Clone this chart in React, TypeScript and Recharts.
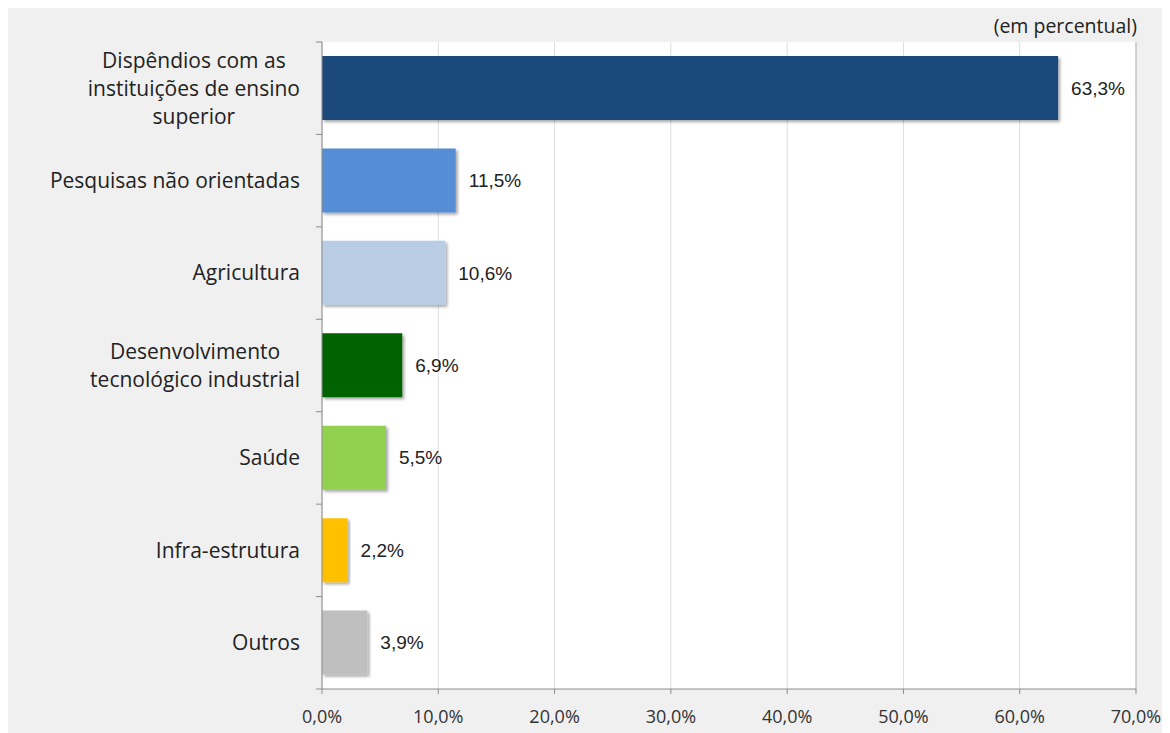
import { BarChart, Bar, XAxis, YAxis, CartesianGrid, Cell, LabelList, ReferenceLine } from 'recharts';

// categories top to bottom, \n marks the line breaks of the tick labels
const categories = [
  'Dispêndios com as\ninstituições de ensino\nsuperior',
  'Pesquisas não orientadas',
  'Agricultura',
  'Desenvolvimento\ntecnológico industrial',
  'Saúde',
  'Infra-estrutura',
  'Outros',
];
const values = [63.3, 11.5, 10.6, 6.9, 5.5, 2.2, 3.9];
const barColors = ['#1f487b', '#558ed5', '#b9cde5', '#006400', '#92d050', '#ffc000', '#bfbfbf'];
const xTicks = [0, 10, 20, 30, 40, 50, 60, 70];

const data = categories.map((name, i) => ({ name, value: values[i] }));

const W = 1162;
const H = 729;
const PLOT_LEFT = 314;
const PLOT_TOP = 38;
const PLOT_RIGHT = 1128;
const X_AXIS_H = 44;
const BAND = (H - PLOT_TOP - X_AXIS_H) / categories.length;
const LABEL_FONT = '"Open Sans", "Noto Sans", sans-serif';
const CAT_SIZE = 21;
const TICK_SIZE = 18;

const pct = (v: number) => v.toFixed(1).replace('.', ',') + '%';

let ctx: CanvasRenderingContext2D | null = null;
function textWidth(t: string) {
  if (!ctx) ctx = document.createElement('canvas').getContext('2d');
  if (!ctx) return t.length * CAT_SIZE * 0.55;
  ctx.font = `${CAT_SIZE}px "Open Sans"`;
  return ctx.measureText(t).width;
}

const CategoryTick = (props: any) => {
  const { y, payload, index } = props;
  const lines: string[] = String(payload.value).split('\n');
  const right = PLOT_LEFT - 22;
  const widest = Math.max(...lines.map(textWidth));
  const cx = right - widest / 2;
  const lh = 28;
  const startY = y - ((lines.length - 1) * lh) / 2;
  return (
    <g>
      <line x1={PLOT_LEFT - 6} x2={PLOT_LEFT} y1={y + BAND / 2} y2={y + BAND / 2} stroke="#8c8c8c" />
      {index === 0 && <line x1={PLOT_LEFT - 6} x2={PLOT_LEFT} y1={y - BAND / 2} y2={y - BAND / 2} stroke="#8c8c8c" />}
      <text textAnchor="middle" fontFamily={LABEL_FONT} fontSize={CAT_SIZE} fill="#222">
        {lines.map((l, i) => (
          <tspan key={i} x={cx} y={startY + i * lh} dy="0.35em">{l}</tspan>
        ))}
      </text>
    </g>
  );
};

export default function App() {
  return (
    <div style={{ position: 'relative', width: W, height: H, marginTop: -4, background: '#f0f0f0' }}>
      <div style={{ position: 'absolute', right: W - PLOT_RIGHT - 1, top: 8, fontFamily: LABEL_FONT, fontSize: 19.5, color: '#222' }}>
        (em percentual)
      </div>
      <BarChart
        width={W}
        height={H}
        layout="vertical"
        data={data}
        barCategoryGap={14}
        margin={{ top: PLOT_TOP, right: W - PLOT_RIGHT, bottom: 0, left: 0 }}
      >
        <defs>
          <filter id="barShadow" x="-5%" y="-10%" width="115%" height="130%">
            <feDropShadow dx="2" dy="2" stdDeviation="1.5" floodColor="#000" floodOpacity="0.35" />
          </filter>
        </defs>
        <CartesianGrid horizontal={false} stroke="#dcdcdc" fill="#ffffff" />
        <XAxis
          type="number"
          domain={[0, 70]}
          ticks={xTicks}
          tickFormatter={pct}
          height={X_AXIS_H}
          axisLine={{ stroke: '#8c8c8c' }}
          tickLine={{ stroke: '#8c8c8c' }}
          tickSize={5}
          tickMargin={16}
          tick={{ fill: '#333', fontSize: TICK_SIZE, fontFamily: LABEL_FONT }}
        />
        <XAxis xAxisId="top" orientation="top" type="number" domain={[0, 70]} height={0} tick={false} tickLine={false} axisLine={{ stroke: '#cfcfcf' }} />
        <YAxis
          type="category"
          dataKey="name"
          width={PLOT_LEFT}
          axisLine={{ stroke: '#8c8c8c' }}
          tickLine={false}
          interval={0}
          tick={<CategoryTick />}
        />
        <ReferenceLine x={70} stroke="#b4b4b4" />
        <Bar dataKey="value" isAnimationActive={false} filter="url(#barShadow)">
          {data.map((d, i) => (
            <Cell key={d.name} fill={barColors[i]} />
          ))}
          <LabelList
            dataKey="value"
            position="right"
            offset={13}
            formatter={(v: any) => pct(Number(v))}
            style={{ fill: '#222', fontSize: 19, fontFamily: '"Liberation Sans", Arial, sans-serif' }}
          />
        </Bar>
      </BarChart>
    </div>
  );
}
